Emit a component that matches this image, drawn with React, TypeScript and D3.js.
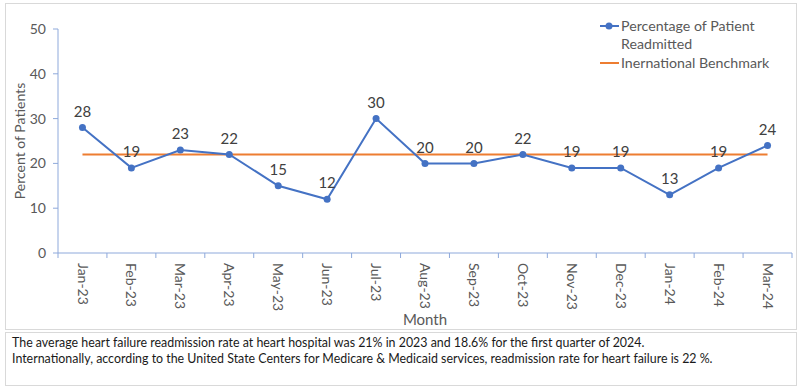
import React from "react";
import { scaleBand, scaleLinear, line } from "d3";

const months = [
  "Jan-23", "Feb-23", "Mar-23", "Apr-23", "May-23", "Jun-23", "Jul-23", "Aug-23",
  "Sep-23", "Oct-23", "Nov-23", "Dec-23", "Jan-24", "Feb-24", "Mar-24",
];
const readmitted = [28, 19, 23, 22, 15, 12, 30, 20, 20, 22, 19, 19, 13, 19, 24];
const benchmark = 22;
const yTicks = [0, 10, 20, 30, 40, 50];
const legendLabels = ["Percentage of Patient", "Readmitted", "Inernational Benchmark"];
const footnote = [
  "The average heart failure readmission rate at heart hospital was 21% in 2023 and 18.6% for the first quarter of 2024.",
  "Internationally, according to the United State Centers for Medicare & Medicaid services, readmission rate for heart failure is 22 %.",
];

const W = 800;
const H = 388;
const font = "Lato, 'Open Sans', sans-serif";
const BLUE = "#4472C4";
const ORANGE = "#ED7D31";
const AXIS = "#8EA9DB";
const GREY = "#595959";

export default function App() {
  const margin = { left: 58, right: 8, top: 29, bottom: 135 };
  const x = scaleBand<string>()
    .domain(months)
    .range([margin.left, W - margin.right]);
  const y = scaleLinear()
    .domain([0, 50])
    .range([H - margin.bottom, margin.top]);
  const cx = (m: string) => (x(m) as number) + x.bandwidth() / 2;

  const path = line<number>()
    .x((_, i) => cx(months[i]))
    .y((d) => y(d))(readmitted);

  const y0 = y(0);

  return (
    <svg
      width={W}
      height={H}
      style={{ position: "absolute", left: 0, top: 0, background: "white" }}
      fontFamily={font}
    >
      {/* frames */}
      <rect x={5.5} y={3.5} width={791} height={326} fill="white" stroke="#D9D9D9" />
      <rect x={5.5} y={332.5} width={791} height={53} fill="white" stroke="#D9D9D9" />

      {/* y axis */}
      <line x1={margin.left} x2={margin.left} y1={y(50)} y2={y0} stroke={AXIS} />
      {yTicks.map((t) => (
        <g key={t}>
          <line x1={margin.left - 5} x2={margin.left} y1={y(t)} y2={y(t)} stroke={AXIS} />
          <text x={46} y={y(t)} dy="0.35em" textAnchor="end" fontSize={14} fill={GREY}>
            {t}
          </text>
        </g>
      ))}
      <text
        transform={`translate(20,${(y(50) + y0) / 2}) rotate(-90)`}
        textAnchor="middle"
        dy="0.35em"
        fontSize={14}
        fill={GREY}
      >
        Percent of Patients
      </text>

      {/* x axis */}
      <line x1={margin.left} x2={W - margin.right} y1={y0} y2={y0} stroke={AXIS} />
      {months.map((m) => (
        <line
          key={"t" + m}
          x1={x(m) as number}
          x2={x(m) as number}
          y1={y0}
          y2={y0 + 5}
          stroke={AXIS}
        />
      ))}
      <line x1={W - margin.right} x2={W - margin.right} y1={y0} y2={y0 + 5} stroke={AXIS} />
      {months.map((m) => (
        <text
          key={"l" + m}
          transform={`translate(${cx(m)},${y0 + 10}) rotate(90)`}
          dy="0.35em"
          fontSize={14}
          fill={GREY}
        >
          {m}
        </text>
      ))}
      <text x={425} y={320} dy="0.35em" textAnchor="middle" fontSize={15} fill={GREY}>
        Month
      </text>

      {/* benchmark */}
      <line
        x1={cx(months[0])}
        x2={cx(months[months.length - 1])}
        y1={y(benchmark)}
        y2={y(benchmark)}
        stroke={ORANGE}
        strokeWidth={2}
      />

      {/* series */}
      <path d={path ?? ""} fill="none" stroke={BLUE} strokeWidth={2} />
      {readmitted.map((v, i) => (
        <g key={"p" + i}>
          <circle cx={cx(months[i])} cy={y(v)} r={3.5} fill={BLUE} />
          <text
            x={cx(months[i])}
            y={y(v) - 16}
            dy="0.35em"
            textAnchor="middle"
            fontSize={15}
            fill="#404040"
          >
            {v}
          </text>
        </g>
      ))}

      {/* legend */}
      <line x1={600} x2={619} y1={26} y2={26} stroke={BLUE} strokeWidth={2} />
      <circle cx={609} cy={26} r={3.5} fill={BLUE} />
      <text x={621} y={26} dy="0.35em" fontSize={14.2} fill={GREY}>{legendLabels[0]}</text>
      <text x={621} y={44} dy="0.35em" fontSize={14.2} fill={GREY}>{legendLabels[1]}</text>
      <line x1={600} x2={619} y1={63} y2={63} stroke={ORANGE} strokeWidth={2} />
      <text x={621} y={63} dy="0.35em" fontSize={14.2} fill={GREY}>{legendLabels[2]}</text>

      {/* footnote */}
      {footnote.map((t, i) => (
        <text key={"f" + i} x={12} y={343 + i * 16} dy="0.35em" fontSize={12.4} fill="#1a1a1a">
          {t}
        </text>
      ))}
    </svg>
  );
}
